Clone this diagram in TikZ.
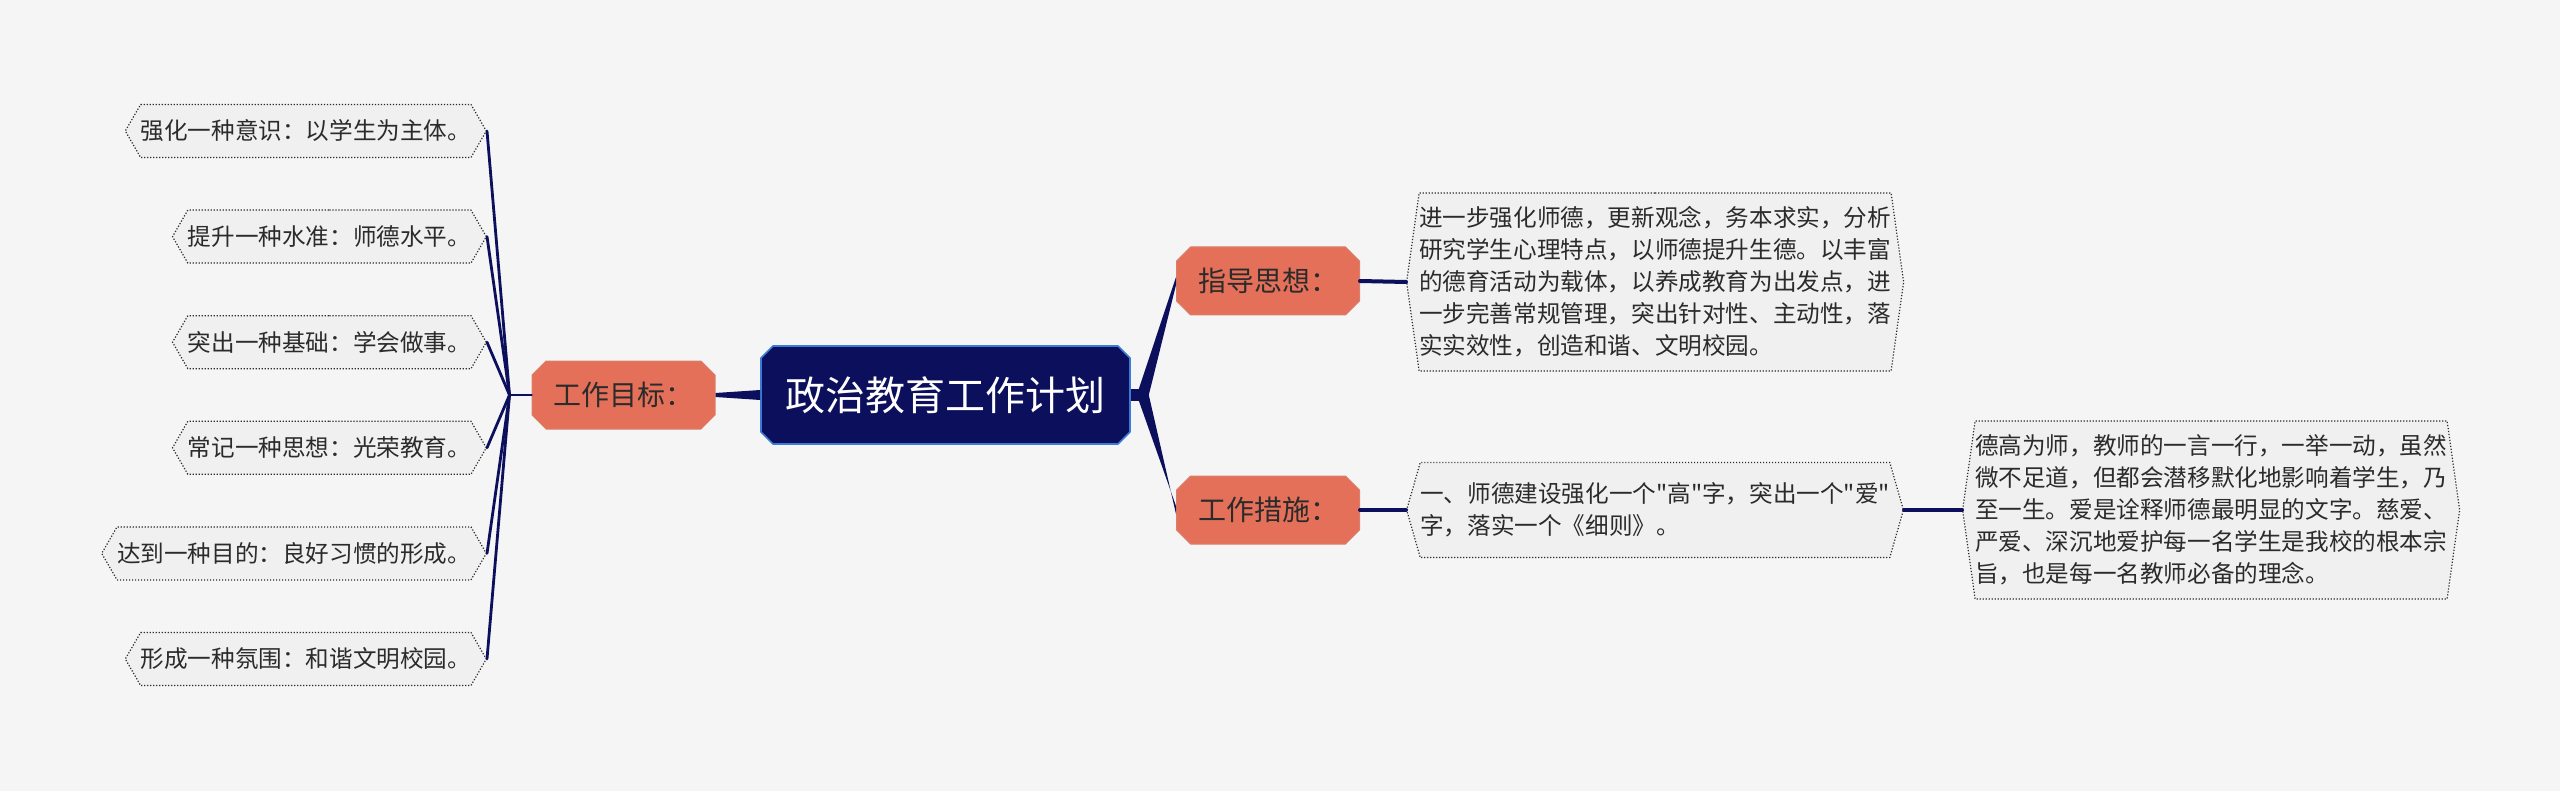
\documentclass[tikz,border=0pt]{standalone}
\usepackage{fontspec}
\newfontfamily\cjk{Noto Sans CJK SC}
\usetikzlibrary{shapes.misc,shapes.symbols}
\definecolor{bgc}{HTML}{F5F5F5}
\definecolor{navy}{HTML}{0B0F5C}
\definecolor{rootline}{HTML}{3B7BD6}
\definecolor{topicc}{HTML}{E4705A}
\definecolor{topicline}{HTML}{D9806B}
\definecolor{leafc}{HTML}{F0F0F0}
\definecolor{inkc}{HTML}{2B2B2B}
\tikzset{
  root/.style={chamfered rectangle,chamfered rectangle sep=3pt,fill=navy,draw=rootline,line width=0.8pt,
    minimum width=184.5pt,minimum height=49pt,inner sep=0pt,text=white,font=\cjk\fontsize{20pt}{24pt}\selectfont},
  topic/.style={chamfered rectangle,chamfered rectangle sep=3.5pt,fill=topicc,draw=topicline,line width=0.5pt,
    minimum width=91.5pt,minimum height=34pt,inner sep=0pt,text=inkc,font=\cjk\fontsize{14pt}{17pt}\selectfont},
  leaf/.style={signal,signal to=west and east,signal pointer angle=120,fill=leafc,draw=inkc,line width=0.6pt,
    line cap=butt,dash pattern=on 0.6pt off 0.9pt,minimum height=26.5pt,inner xsep=0pt,inner ysep=0pt,text=inkc,
    font=\cjk\fontsize{11.8pt}{16pt}\selectfont},
  note/.style={leaf,align=left,signal pointer angle=164},
  link/.style={navy,line width=2pt},
  fan/.style={navy,line width=1.4pt}
}
\begin{document}
\begin{tikzpicture}[x=0.5pt,y=-0.5pt,line cap=round,line join=round]
  \fill[bgc] (0,0) rectangle (2560,791);
  \useasboundingbox (0,0) rectangle (2560,791);
  \node[root] (root) at (945.5,395) {政治教育工作计划};
  \node[topic] (goal) at (623.5,395) {工作目标：};
  \node[topic] (guide) at (1268,281) {指导思想：};
  \node[topic] (meas) at (1268,510) {工作措施：};
  \node[leaf,anchor=east] (g1) at (487,131) {强化一种意识：以学生为主体。};
  \node[leaf,anchor=east] (g2) at (487,236.6) {提升一种水准：师德水平。};
  \node[leaf,anchor=east] (g3) at (487,342.2) {突出一种基础：学会做事。};
  \node[leaf,anchor=east] (g4) at (487,447.8) {常记一种思想：光荣教育。};
  \node[leaf,anchor=east] (g5) at (487,553.4) {达到一种目的：良好习惯的形成。};
  \node[leaf,anchor=east] (g6) at (487,659) {形成一种氛围：和谐文明校园。};
  \node[note,minimum height=89pt,anchor=west] (gnote) at (1406,282)
    {进一步强化师德，更新观念，务本求实，分析\\研究学生心理特点，以师德提升生德。以丰富\\的德育活动为载体，以养成教育为出发点，进\\一步完善常规管理，突出针对性、主动性，落\\实实效性，创造和谐、文明校园。};
  \node[note,minimum height=47.5pt,signal pointer angle=148,anchor=west] (mnote) at (1406,510)
    {一、师德建设强化一个"高"字，突出一个"爱"\\字，落实一个《细则》。};
  \node[note,minimum height=89pt,anchor=west] (mdet) at (1962,510)
    {德高为师，教师的一言一行，一举一动，虽然\\微不足道，但都会潜移默化地影响着学生，乃\\至一生。爱是诠释师德最明显的文字。慈爱、\\严爱、深沉地爱护每一名学生是我校的根本宗\\旨，也是每一名教师必备的理念。};
  \coordinate (lb) at ([xshift=-11pt]goal.west);
  \coordinate (rb) at ([xshift=6pt]root.east);
  \fill[navy] ([yshift=2.5pt]root.west) -- ([yshift=1pt]goal.east) -- ([yshift=-1pt]goal.east) -- ([yshift=-2.5pt]root.west) -- cycle;
  \fill[navy] ([yshift=3pt]root.east) rectangle ([yshift=-3pt]rb);
  \foreach \t in {guide,meas}
    \fill[navy] ([xshift=-3pt]rb) -- ([yshift=2pt]\t.west) -- ([yshift=-2pt]\t.west) -- ([xshift=3pt]rb) -- cycle;
  \draw[fan] (goal.west) -- (lb);
  \foreach \i in {1,...,6} \draw[fan] (lb) -- (g\i.east);
  \draw[link] (guide.east) -- (gnote.west);
  \draw[link] (meas.east) -- (mnote.west);
  \draw[link] (mnote.east) -- (mdet.west);
\end{tikzpicture}
\end{document}
